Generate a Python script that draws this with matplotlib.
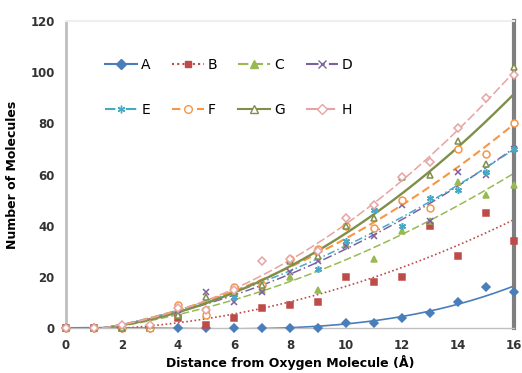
import matplotlib.pyplot as plt
import numpy as np
from matplotlib.lines import Line2D

# distance (Angstrom)
dist = np.arange(0, 17)

# number of molecules per series
A = [0, 0, 0, 0, 0, 0, 0, 0, 0, 0, 2, 2, 4, 6, 10, 16, 14]
B = [0, 0, 0, 0, 4, 1, 4, 8, 9, 10, 20, 18, 20, 40, 28, 45, 34]
C = [0, 0, 0, 0, 5, 5, 14, 15, 20, 15, 33, 27, 38, 42, 57, 52, 56]
D = [0, 0, 0, 0, 7, 14, 10, 14, 22, 26, 32, 36, 48, 42, 61, 60, 70]
E = [0, 0, 0, 0, 9, 7, 12, 17, 27, 23, 34, 46, 40, 51, 54, 61, 70]
F = [0, 0, 0, 0, 9, 5, 16, 17, 27, 31, 40, 39, 50, 47, 70, 68, 80]
G = [0, 0, 0, 1, 5, 12, 14, 17, 26, 28, 40, 43, 59, 60, 73, 64, 102]
H = [0, 0, 1, 1, 8, 7, 15, 26, 27, 30, 43, 48, 59, 65, 78, 90, 99]

names = ["A", "B", "C", "D", "E", "F", "G", "H"]
series = [A, B, C, D, E, F, G, H]
colors = ["#4A7EBB", "#BE4B48", "#98B954", "#7D60A0", "#46AAC5",
          "#F79646", "#7F8F4A", "#E6A3A3"]
markers = ["D", "s", "^", "x", (6, 2, 0), "o", "^", "D"]
filled = [True, True, True, True, True, False, False, False]
styles = ["-", (0, (1, 1.5)), (0, (5, 2)), (0, (6, 2, 1, 2)),
          (0, (5, 2, 1, 2)), (0, (4, 2)), "-", (0, (6, 2))]
widths = [1.2, 1.2, 1.1, 1.1, 1.1, 1.5, 1.7, 1.1]
degree = [3, 2, 2, 2, 2, 2, 2, 2]

fig = plt.figure(figsize=(5.22, 3.73), dpi=100)
ax = fig.add_axes([0.126, 0.1206, 0.859, 0.8231])

xs = np.linspace(0, 16, 200)
handles = []
for i in range(8):
    y = np.array(series[i], dtype=float)
    p = np.polyfit(dist, y, degree[i])
    ax.plot(xs, np.polyval(p, xs), color=colors[i], ls=styles[i], lw=widths[i])
    fc = colors[i] if filled[i] else "white"
    ms = 4.2 if markers[i] in ("D", "s") else 5
    ax.plot(dist, y, ls="none", marker=markers[i], ms=ms, mfc=fc,
            mec=colors[i], mew=1.1, clip_on=False, zorder=3)
    handles.append(Line2D([0], [0], color=colors[i], ls=styles[i], lw=1.5,
                          marker=markers[i], ms=ms + 0.5, mfc=fc, mec=colors[i]))

ax.set_xlim(0, 16)
ax.set_ylim(0, 120)
ax.set_xticks(range(0, 17, 2))
ax.set_yticks(range(0, 121, 20))
ax.tick_params(length=0, labelsize=8.5, pad=8)
for lab in ax.get_xticklabels() + ax.get_yticklabels():
    lab.set_fontweight("bold")
    lab.set_color("#333333")

ax.spines["left"].set_color("#BFBFBF")
ax.spines["left"].set_linewidth(2)
ax.spines["bottom"].set_color("#BFBFBF")
ax.spines["bottom"].set_linewidth(1)
ax.spines["top"].set_color("#EEEEEE")
ax.spines["top"].set_linewidth(1.5)
ax.spines["right"].set_color("#7F7F7F")
ax.spines["right"].set_linewidth(3)

ax.set_xlabel("Distance from Oxygen Molecule (Å)", fontsize=9,
              fontweight="bold", labelpad=2)
ax.set_ylabel("Number of Molecules", fontsize=9, fontweight="bold", labelpad=8)

order = [0, 4, 1, 5, 2, 6, 3, 7]
ax.legend([handles[k] for k in order], [names[k] for k in order], ncol=4,
          loc="upper left", bbox_to_anchor=(0.06, 0.92), frameon=False,
          fontsize=10, handlelength=2.3, handletextpad=0.3,
          columnspacing=1.5, labelspacing=2.2)

fig.savefig("out.png", dpi=100)
